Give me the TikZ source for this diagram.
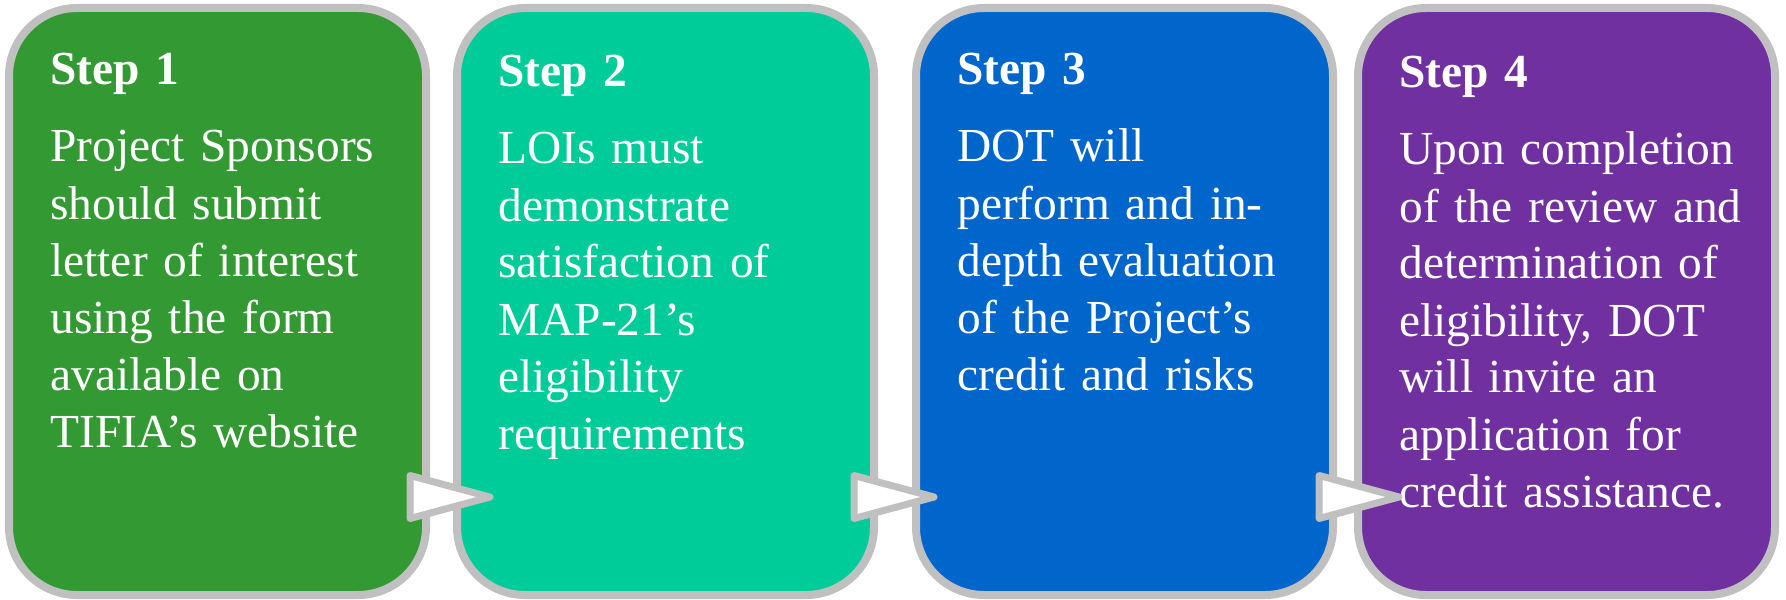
\documentclass[tikz,border=0pt]{standalone}
\usepackage{fontspec}
\setmainfont{Liberation Serif}
\usepackage{xcolor}
\usetikzlibrary{calc,positioning}
\definecolor{stepgreen}{HTML}{339933}
\definecolor{stepteal}{HTML}{00CC99}
\definecolor{stepblue}{HTML}{0066CC}
\definecolor{steppurple}{HTML}{7030A0}
\definecolor{stepgray}{HTML}{C0C0C0}
\tikzset{
  stepbox/.style={
    rectangle,
    rounded corners=34pt,
    draw=stepgray, line width=4pt,
    minimum width=208.5pt,
    minimum height=293.5pt,
    inner sep=0pt, outer sep=0pt},
  steptext/.style={
    text=white,
    text width=190pt,
    align=left,
    inner sep=0pt,
    anchor=base west,
    font=\fontsize{23.7}{28.5}\selectfont},
  flow/.style={draw=stepgray, fill=white, line width=3.5pt, line join=round},
}
\begin{document}
\begin{tikzpicture}
  \useasboundingbox (0,0) rectangle (893pt,-299.5pt);
  \node[stepbox, fill=stepgreen, anchor=north west] (s1) at (4.5pt,-4pt) {};
  \node[stepbox, fill=stepteal, right=15.5pt of s1] (s2) {};
  \node[stepbox, fill=stepblue, right=21pt of s2] (s3) {};
  \node[stepbox, fill=steppurple, right=12.5pt of s3] (s4) {};

  % step texts
  \node[steptext] (t1) at ([shift={(20.5pt,-38.5pt)}]s1.north west)
    {\textbf{Step 1}\\[10pt]Project Sponsors\\should submit\\letter of interest\\using the form\\available on\\TIFIA’s website};
  \node[steptext] (t2) at ([shift={(20.5pt,-39.5pt)}]s2.north west)
    {\textbf{Step 2}\\[10pt]LOIs must\\demonstrate\\satisfaction of\\MAP-21’s\\eligibility\\requirements};
  \node[steptext] (t3) at ([shift={(20.5pt,-38.5pt)}]s3.north west)
    {\textbf{Step 3}\\[10pt]DOT will\\perform and in-\\depth evaluation\\of the Project’s\\credit and risks};
  \node[steptext] (t4) at ([shift={(20.5pt,-40pt)}]s4.north west)
    {\textbf{Step 4}\\[10pt]Upon completion\\of the review and\\determination of\\eligibility, DOT\\will invite an\\application for\\credit assistance.};

  % arrows between the steps
  \foreach \a/\d in {s1/8pt, s2/10pt, s3/7pt}
    \draw[flow] ([shift={(-\d,-87pt)}]\a.east) -- ++(0,-21.5pt) -- ++(40pt,10.75pt) -- cycle;
\end{tikzpicture}
\end{document}
